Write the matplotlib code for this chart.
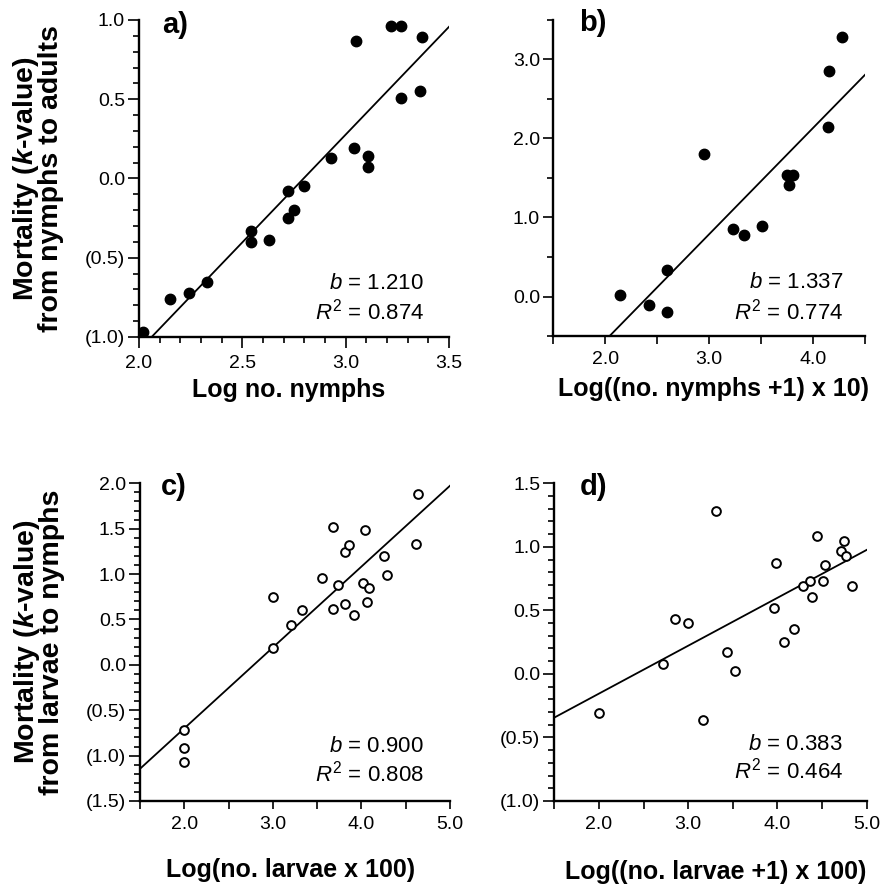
import matplotlib
matplotlib.use("Agg")
import matplotlib.pyplot as plt
from matplotlib.ticker import MultipleLocator, FuncFormatter

plt.rcParams['font.family'] = ['Liberation Sans', 'DejaVu Sans']
plt.rcParams['mathtext.fontset'] = 'custom'
plt.rcParams['mathtext.rm'] = 'Liberation Sans'
plt.rcParams['mathtext.it'] = 'Liberation Sans:italic'
plt.rcParams['mathtext.bf'] = 'Liberation Sans:bold'
plt.rcParams['mathtext.bfit'] = 'Liberation Sans:italic:bold'

# panel a: nymphs -> adults
a_x = [2.02, 2.15, 2.24, 2.33, 2.54, 2.54, 2.63, 2.72, 2.75, 2.72, 2.80,
       2.93, 3.04, 3.11, 3.11, 3.05, 3.22, 3.27, 3.37, 3.27, 3.36]
a_y = [-0.97, -0.76, -0.72, -0.65, -0.33, -0.40, -0.39, -0.25, -0.20, -0.08, -0.045,
       0.13, 0.195, 0.14, 0.075, 0.87, 0.96, 0.96, 0.895, 0.51, 0.555]
a_fit = (1.36, -3.803)  # slope, intercept of drawn line
a_stats = ("1.210", "0.874")

# panel b: nymphs +1
b_x = [2.14, 2.42, 2.59, 2.59, 2.95, 3.23, 3.33, 3.51, 3.75, 3.81, 3.77, 4.14, 4.15, 4.28]
b_y = [0.02, -0.11, -0.19, 0.33, 1.80, 0.85, 0.78, 0.89, 1.54, 1.54, 1.41, 2.15, 2.85, 3.29]
b_fit = (1.346, -3.248)
b_stats = ("1.337", "0.774")

# panel c: larvae -> nymphs
c_x = [3.00, 3.00, 3.21, 3.33, 3.56, 3.68, 3.68, 3.73, 3.81, 3.81, 3.86, 3.92,
       4.02, 4.08, 4.06, 4.04, 4.25, 4.29, 4.62, 4.64, 2.00, 2.00, 2.00]
c_y = [0.75, 0.18, 0.44, 0.60, 0.96, 1.52, 0.62, 0.88, 0.675, 1.24, 1.32, 0.55,
       0.90, 0.845, 0.695, 1.48, 1.20, 0.99, 1.33, 1.88, -0.72, -0.92, -1.065]
c_fit = (0.891, -2.482)
c_stats = ("0.900", "0.808")

# panel d: larvae +1
d_x = [3.31, 2.72, 2.85, 3.00, 3.43, 3.52, 3.98, 3.96, 4.07, 4.19, 4.29, 4.36,
       4.39, 4.44, 4.51, 4.53, 4.71, 4.75, 4.77, 4.84, 2.00, 3.16]
d_y = [1.285, 0.08, 0.43, 0.40, 0.17, 0.025, 0.87, 0.52, 0.255, 0.35, 0.695, 0.735,
       0.605, 1.085, 0.735, 0.855, 0.965, 1.045, 0.925, 0.695, -0.305, -0.365]
d_fit = (0.377, -0.909)
d_stats = ("0.383", "0.464")

ylab_top = 'Mortality ($\\mathbfit{k}$-value)\nfrom nymphs to adults'
ylab_bottom = 'Mortality ($\\mathbfit{k}$-value)\nfrom larvae to nymphs'


def paren_fmt(v, pos):
    if v < -1e-9:
        return f"({abs(v):.1f})"
    return f"{abs(v):.1f}" if abs(v) < 1e-9 else f"{v:.1f}"


def int_only_fmt(v, pos):
    if abs(v - round(v)) < 1e-6:
        return f"{v:.1f}"
    return ""


def style_axes(ax):
    for side in ['top', 'right']:
        ax.spines[side].set_visible(False)
    for side in ['left', 'bottom']:
        ax.spines[side].set_linewidth(1.7)
    ax.tick_params(which='both', direction='out', width=1.2, labelsize=14)
    ax.tick_params(axis='y', pad=2)
    ax.tick_params(axis='x', pad=5)


def draw_panel(ax, x, y, fit, stats, filled, letter, stat_pos, letter_pos):
    if filled:
        ax.plot(x, y, 'o', color='black', markersize=7.5, linestyle='none', zorder=3)
    else:
        ax.plot(x, y, 'o', mfc='white', mec='black', mew=1.4, markersize=6.3,
                linestyle='none', zorder=3)
    xlo, xhi = ax.get_xlim()
    ax.plot([xlo, xhi], [fit[0] * xlo + fit[1], fit[0] * xhi + fit[1]],
            color='black', lw=1.3, zorder=2)
    ax.set_xlim(xlo, xhi)
    sx, sy1, sy2 = stat_pos
    ax.text(sx, sy1, f"$b$ = {stats[0]}", transform=ax.transAxes,
            ha='right', va='center', fontsize=16)
    ax.text(sx, sy2, f"$R^2$ = {stats[1]}", transform=ax.transAxes,
            ha='right', va='center', fontsize=16)
    ax.text(letter_pos[0], letter_pos[1], letter, transform=ax.transAxes,
            ha='left', va='center', fontsize=21, fontweight='bold')


fig = plt.figure(figsize=(8.82, 8.84), dpi=100)

ax_a = fig.add_axes([0.1576, 0.6188, 0.3515, 0.3586])
ax_b = fig.add_axes([0.6273, 0.6199, 0.3537, 0.3575])
ax_c = fig.add_axes([0.1587, 0.0939, 0.3515, 0.3594])
ax_d = fig.add_axes([0.6285, 0.0939, 0.3542, 0.3594])

for ax in [ax_a, ax_b, ax_c, ax_d]:
    style_axes(ax)

# panel a
ax_a.set_xlim(2.0, 3.5)
ax_a.set_ylim(-1.0, 1.0)
ax_a.xaxis.set_major_locator(MultipleLocator(0.5))
ax_a.xaxis.set_minor_locator(MultipleLocator(0.1))
ax_a.yaxis.set_major_locator(MultipleLocator(0.5))
ax_a.yaxis.set_minor_locator(MultipleLocator(0.1))
ax_a.xaxis.set_major_formatter(FuncFormatter(lambda v, p: f"{v:.1f}"))
ax_a.yaxis.set_major_formatter(FuncFormatter(paren_fmt))
ax_a.tick_params(which='major', length=8)
ax_a.tick_params(which='minor', length=4.5)
draw_panel(ax_a, a_x, a_y, a_fit, a_stats, True, 'a)',
           (0.919, 0.170, 0.080), (0.073, 0.984))

# panel b
ax_b.set_xlim(1.5, 4.5)
ax_b.set_ylim(-0.5, 3.5)
ax_b.xaxis.set_major_locator(MultipleLocator(0.5))
ax_b.xaxis.set_major_formatter(FuncFormatter(int_only_fmt))
ax_b.yaxis.set_major_locator(MultipleLocator(1.0))
ax_b.yaxis.set_major_formatter(FuncFormatter(paren_fmt))
ax_b.tick_params(axis='x', which='major', length=5.5)
ax_b.tick_params(axis='y', which='major', length=7.5)
ax_b.tick_params(axis='y', which='minor', length=4.5)
ax_b.set_yticks([-0.5, 0.5, 1.5, 2.5, 3.5], minor=True)
draw_panel(ax_b, b_x, b_y, b_fit, b_stats, True, 'b)',
           (0.929, 0.169, 0.077), (0.083, 0.99))

# panel c
ax_c.set_xlim(1.5, 5.0)
ax_c.set_ylim(-1.5, 2.0)
ax_c.xaxis.set_major_locator(MultipleLocator(0.5))
ax_c.xaxis.set_major_formatter(FuncFormatter(int_only_fmt))
ax_c.yaxis.set_major_locator(MultipleLocator(0.5))
ax_c.yaxis.set_minor_locator(MultipleLocator(0.1))
ax_c.yaxis.set_major_formatter(FuncFormatter(paren_fmt))
ax_c.tick_params(axis='x', which='major', length=5.5)
ax_c.tick_params(axis='y', which='major', length=8)
ax_c.tick_params(axis='y', which='minor', length=4)
draw_panel(ax_c, c_x, c_y, c_fit, c_stats, False, 'c)',
           (0.916, 0.173, 0.087), (0.068, 0.989))

# panel d
ax_d.set_xlim(1.5, 5.0)
ax_d.set_ylim(-1.0, 1.5)
ax_d.xaxis.set_major_locator(MultipleLocator(0.5))
ax_d.xaxis.set_major_formatter(FuncFormatter(int_only_fmt))
ax_d.yaxis.set_major_locator(MultipleLocator(0.5))
ax_d.yaxis.set_minor_locator(MultipleLocator(0.1))
ax_d.yaxis.set_major_formatter(FuncFormatter(paren_fmt))
ax_d.tick_params(axis='x', which='major', length=5.5)
ax_d.tick_params(axis='y', which='major', length=8)
ax_d.tick_params(axis='y', which='minor', length=4)
draw_panel(ax_d, d_x, d_y, d_fit, d_stats, False, 'd)',
           (0.923, 0.179, 0.095), (0.08, 0.989))

# axis labels
xlabels = [(ax_a, 'Log no. nymphs', 0.484, -0.167),
           (ax_b, 'Log((no. nymphs +1) x 10)', 0.512, -0.168),
           (ax_c, 'Log(no. larvae x 100)', 0.486, -0.217),
           (ax_d, 'Log((no. larvae +1) x 100)', 0.517, -0.223)]
for ax, txt, lx, ly in xlabels:
    ax.set_xlabel(txt, fontsize=18, fontweight='bold')
    ax.xaxis.label.set_va('center')
    ax.xaxis.set_label_coords(lx, ly)

for ax, txt in [(ax_a, ylab_top), (ax_c, ylab_bottom)]:
    ax.set_ylabel(txt, fontsize=20.5, fontweight='bold', linespacing=0.88)
    ax.yaxis.label.set_va('center')
    ax.yaxis.set_label_coords(-0.327, 0.5)

fig.savefig("out.png", dpi=100)
